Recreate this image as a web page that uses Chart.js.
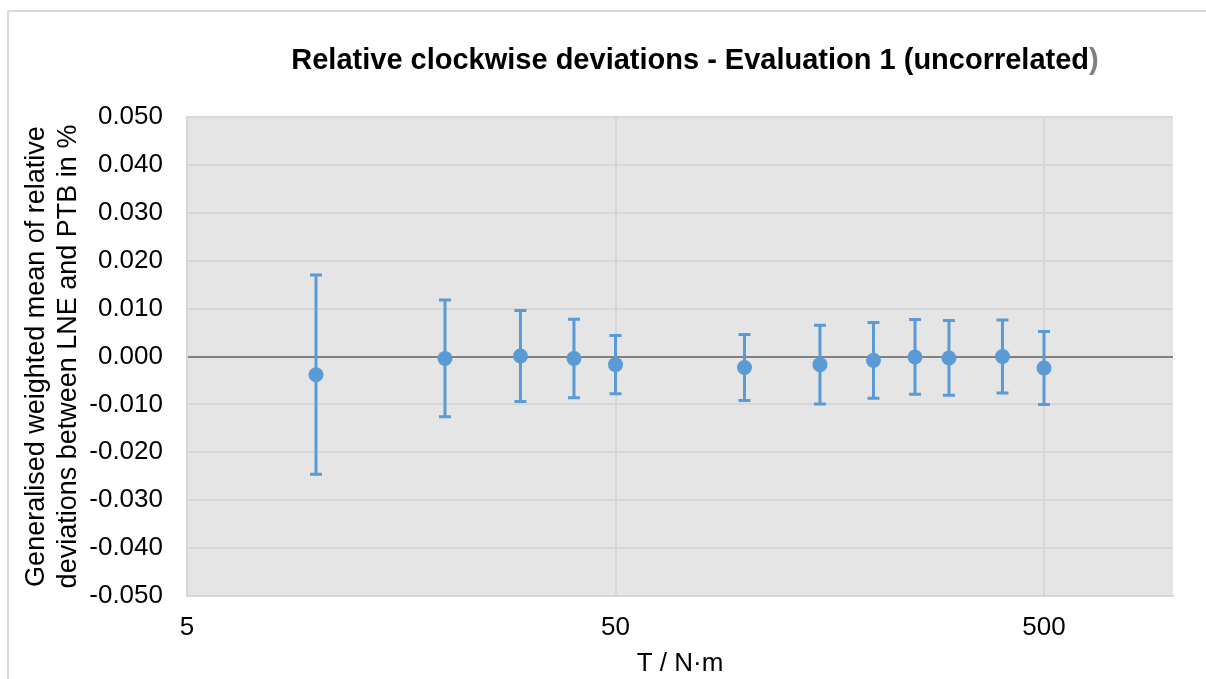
<!DOCTYPE html>
<html>
<head>
<meta charset="utf-8">
<title>Relative clockwise deviations</title>
<script src="https://cdn.jsdelivr.net/npm/chart.js@4/dist/chart.umd.min.js"></script>
<style>
    body { margin: 0; background: #fff; }
    .cadre { position: absolute; left: 7px; top: 10px; width: 1300px; height: 800px;
             border-top: 2px solid #D9D9D9; border-left: 2px solid #D9D9D9; }
    #devChart { position: absolute; left: 0; top: 0; }
</style>
</head>
<body>
<div class="cadre"></div>
<canvas id="devChart" width="1206" height="679"></canvas>
<script>
// les données du graphique
const torques = [10, 20, 30, 40, 50, 100, 150, 200, 250, 300, 400, 500];
const meanDev = [-0.0038, -0.0004, 0.0001, -0.0004, -0.0017, -0.0023, -0.0017, -0.0008, -0.0001, -0.0003, 0.0000, -0.0024];
const uncert = [0.0208, 0.0122, 0.0095, 0.0082, 0.0061, 0.0069, 0.0082, 0.0079, 0.0078, 0.0078, 0.0076, 0.0076];
const xTicks = [5, 50, 500];

const titleText = 'Relative clockwise deviations - Evaluation 1 (uncorrelated';
const blue = '#5B9BD5';
const police = '"Liberation Sans", Arial, sans-serif';

var points = torques.map((t, i) => ({ x: t, y: meanDev[i] }));

// fond gris de la zone du graphique
const fondPlugin = {
    id: 'fond',
    beforeDraw(chart) {
        const a = chart.chartArea;
        const ctx = chart.ctx;
        ctx.save();
        ctx.fillStyle = '#E5E5E5';
        ctx.fillRect(a.left, a.top, a.right - a.left, a.bottom - a.top);
        ctx.restore();
    }
};

// barres d'erreur (dessinées sous les points)
const errorBarPlugin = {
    id: 'errorBars',
    beforeDatasetsDraw(chart) {
        const ctx = chart.ctx;
        const xs = chart.scales.x;
        const ys = chart.scales.y;
        ctx.save();
        ctx.strokeStyle = blue;
        ctx.lineWidth = 3;
        torques.forEach((t, i) => {
            const px = xs.getPixelForValue(t);
            const top = ys.getPixelForValue(meanDev[i] + uncert[i]);
            const bot = ys.getPixelForValue(meanDev[i] - uncert[i]);
            ctx.beginPath();
            ctx.moveTo(px, top);
            ctx.lineTo(px, bot);
            ctx.moveTo(px - 6, top);
            ctx.lineTo(px + 6, top);
            ctx.moveTo(px - 6, bot);
            ctx.lineTo(px + 6, bot);
            ctx.stroke();
        });
        ctx.restore();
    }
};

// titre (la dernière parenthèse est grise dans l'original)
const titrePlugin = {
    id: 'titre',
    afterDraw(chart) {
        const ctx = chart.ctx;
        const a = chart.chartArea;
        ctx.save();
        ctx.font = 'bold 29px ' + police;
        ctx.textBaseline = 'middle';
        const w1 = ctx.measureText(titleText).width;
        const w2 = ctx.measureText(')').width;
        const start = (a.left + a.right) / 2 + 15 - (w1 + w2) / 2;
        ctx.fillStyle = '#000';
        ctx.fillText(titleText, start, 61);
        ctx.fillStyle = '#7F7F7F';
        ctx.fillText(')', start + w1, 61);
        ctx.restore();
    }
};

var ctx = document.getElementById('devChart').getContext('2d');
var devChart = new Chart(ctx, {
    type: 'scatter',
    data: {
        datasets: [{
            label: 'Relative deviation',
            data: points,
            backgroundColor: blue,
            borderColor: blue,
            pointRadius: 7.5,
            pointHoverRadius: 7.5,
            borderWidth: 0
        }]
    },
    options: {
        responsive: false,
        animation: false,
        layout: {
            padding: { left: 20, right: 33, top: 117, bottom: 0 }
        },
        plugins: {
            legend: { display: false },
            tooltip: { enabled: false },
            title: { display: false }
        },
        scales: {
            x: {
                type: 'logarithmic',
                min: 5,
                max: 1000,
                afterBuildTicks: (axis) => {
                    axis.ticks = xTicks.map(v => ({ value: v }));
                },
                afterFit: (axis) => { axis.height = 83; },
                ticks: {
                    color: '#000',
                    font: { family: police, size: 26 },
                    padding: 16,
                    maxRotation: 0,
                    callback: (v) => String(v)
                },
                grid: { color: '#D6D6D6', lineWidth: 2, drawTicks: false },
                border: { color: '#D6D6D6', width: 2 },
                title: {
                    display: true,
                    text: 'T / N·m',
                    color: '#000',
                    font: { family: police, size: 26 },
                    padding: { top: 0, bottom: 0 }
                }
            },
            y: {
                min: -0.05,
                max: 0.05,
                afterFit: (axis) => { axis.width = 167; },
                ticks: {
                    stepSize: 0.01,
                    color: '#000',
                    font: { family: police, size: 26 },
                    padding: 24,
                    callback: (v) => (Math.abs(v) < 1e-9 ? 0 : v).toFixed(3)
                },
                grid: {
                    color: (c) => (c.tick && Math.abs(c.tick.value) < 1e-9 ? '#808080' : '#D6D6D6'),
                    lineWidth: 2,
                    drawTicks: false
                },
                border: { color: '#D6D6D6', width: 2 },
                title: {
                    display: true,
                    text: ['Generalised weighted mean of relative', 'deviations between LNE and PTB in %'],
                    color: '#000',
                    font: { family: police, size: 27, lineHeight: 1.2 },
                    padding: { top: 0, bottom: 6 }
                }
            }
        }
    },
    plugins: [fondPlugin, errorBarPlugin, titrePlugin]
});
</script>
</body>
</html>
